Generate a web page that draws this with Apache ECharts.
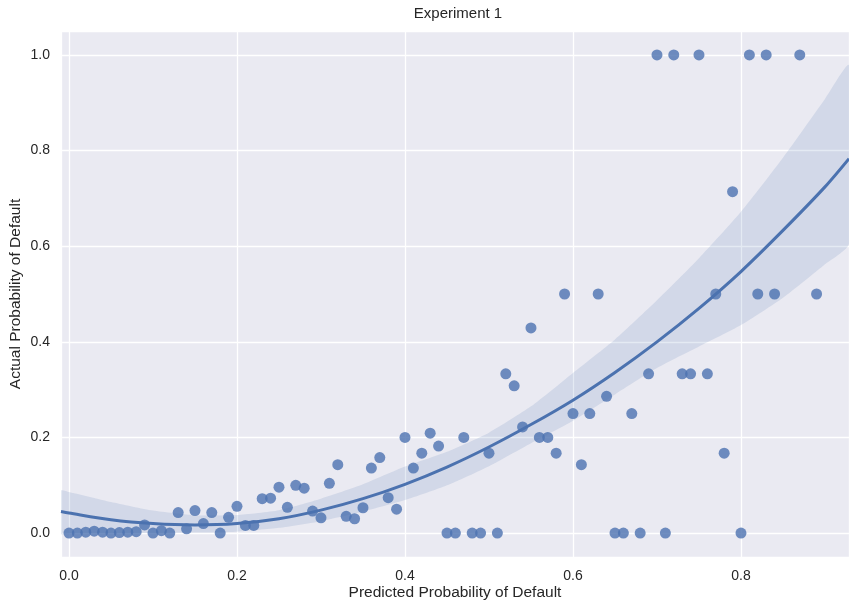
<!DOCTYPE html>
<html>
<head>
<meta charset="utf-8">
<title>Experiment 1</title>
<script src="https://cdn.jsdelivr.net/npm/echarts@6/dist/echarts.min.js"></script>
<style>
  html, body { margin: 0; padding: 0; background: #ffffff; }
  #chart { width: 849px; height: 604px; }
</style>
</head>
<body>
<div id="chart"></div>
<script>
// Binned predictions (x) against observed default rate (y)
const predicted = [
  0.00, 0.01, 0.02, 0.03, 0.04, 0.05, 0.06, 0.07, 0.08, 0.09,
  0.10, 0.11, 0.12, 0.13, 0.14, 0.15, 0.16, 0.17, 0.18, 0.19,
  0.20, 0.21, 0.22, 0.23, 0.24, 0.25, 0.26, 0.27, 0.28, 0.29,
  0.30, 0.31, 0.32, 0.33, 0.34, 0.35, 0.36, 0.37, 0.38, 0.39,
  0.40, 0.41, 0.42, 0.43, 0.44, 0.45, 0.46, 0.47, 0.48, 0.49,
  0.50, 0.51, 0.52, 0.53, 0.54, 0.55, 0.56, 0.57, 0.58, 0.59,
  0.60, 0.61, 0.62, 0.63, 0.64, 0.65, 0.66, 0.67, 0.68, 0.69,
  0.70, 0.71, 0.72, 0.73, 0.74, 0.75, 0.76, 0.77, 0.78, 0.79,
  0.80, 0.81, 0.82, 0.83, 0.84, 0.87, 0.89
];
const actual = [
  0.000, 0.000, 0.002, 0.004, 0.002, 0.000, 0.001, 0.002, 0.003, 0.017,
  0.000, 0.005, 0.000, 0.043, 0.009, 0.047, 0.020, 0.043, 0.000, 0.033,
  0.056, 0.016, 0.016, 0.072, 0.073, 0.096, 0.054, 0.100, 0.094, 0.046,
  0.032, 0.104, 0.143, 0.035, 0.030, 0.053, 0.136, 0.158, 0.074, 0.050,
  0.200, 0.136, 0.167, 0.209, 0.182, 0.000, 0.000, 0.200, 0.000, 0.000,
  0.167, 0.000, 0.333, 0.308, 0.222, 0.429, 0.200, 0.200, 0.167, 0.500,
  0.250, 0.143, 0.250, 0.500, 0.286, 0.000, 0.000, 0.250, 0.000, 0.333,
  1.000, 0.000, 1.000, 0.333, 0.333, 1.000, 0.333, 0.500, 0.167, 0.714,
  0.000, 1.000, 0.500, 1.000, 0.500, 1.000, 0.500
];

// Second-order fit and its confidence band, sampled across the axis
const fitX = [
  -0.0095, 0.00, 0.05, 0.10, 0.15, 0.20, 0.25, 0.30, 0.35, 0.40, 0.45,
  0.50, 0.55, 0.60, 0.65, 0.70, 0.75, 0.80, 0.85, 0.90, 0.9286
];
const fitY = [
  0.045, 0.042, 0.028, 0.020, 0.017, 0.020, 0.030, 0.048, 0.072, 0.102, 0.138,
  0.180, 0.227, 0.278, 0.336, 0.400, 0.470, 0.547, 0.633, 0.724, 0.783
];
const bandUpper = [
  0.089, 0.086, 0.065, 0.047, 0.037, 0.038, 0.048, 0.072, 0.102, 0.139, 0.170,
  0.210, 0.265, 0.335, 0.405, 0.487, 0.575, 0.672, 0.785, 0.908, 0.978
];
const bandLower = [
  -0.002, 0.000, 0.000, 0.000, 0.001, 0.003, 0.011, 0.025, 0.045, 0.069, 0.100,
  0.140, 0.188, 0.235, 0.290, 0.345, 0.390, 0.435, 0.492, 0.562, 0.605
];

// Axis extents and tick labels
const xRange = [-0.0095, 0.9286];
const yRange = [-0.05, 1.05];
const xTicks = ['0.0', '0.2', '0.4', '0.6', '0.8'];
const yTicks = ['0.0', '0.2', '0.4', '0.6', '0.8', '1.0'];

const BLUE = '#4c72b0';
const TEXT = '#262626';
const FONT = '"Liberation Sans", Arial, sans-serif';

const chart = echarts.init(document.getElementById('chart'), null, { renderer: 'canvas' });

const pointData = predicted.map((x, i) => [x, actual[i]]);
const lineData = fitX.map((x, i) => [x, fitY[i]]);

function tickFormatter(list) {
  return function (v) {
    const s = v.toFixed(1);
    return list.indexOf(s) >= 0 && Math.abs(v - parseFloat(s)) < 1e-6 ? s : '';
  };
}

const option = {
  animation: false,
  backgroundColor: '#ffffff',
  title: {
    text: 'Experiment 1',
    left: 453,
    textAlign: 'center',
    top: 1,
    textStyle: { color: TEXT, fontSize: 15, fontWeight: 'normal', fontFamily: FONT }
  },
  grid: {
    left: 61, right: 0, top: 31, bottom: 47,
    containLabel: false,
    outerBoundsMode: 'none',
    show: true, backgroundColor: '#eaeaf2', borderWidth: 0
  },
  xAxis: {
    type: 'value',
    min: xRange[0], max: xRange[1],
    splitNumber: 5,
    name: 'Predicted Probability of Default',
    nameLocation: 'middle',
    nameGap: 28,
    nameMoveOverlap: false,
    nameTextStyle: { color: TEXT, fontSize: 15.5, fontFamily: FONT },
    axisLine: { show: false },
    axisTick: { show: false },
    axisLabel: {
      color: TEXT, fontSize: 14, fontFamily: FONT, margin: 12,
      showMinLabel: false, showMaxLabel: false,
      formatter: tickFormatter(xTicks)
    },
    splitLine: { show: true, lineStyle: { color: '#ffffff', width: 1.3 } }
  },
  yAxis: {
    type: 'value',
    min: yRange[0], max: yRange[1],
    splitNumber: 5,
    name: 'Actual Probability of Default',
    nameLocation: 'middle',
    nameGap: 37,
    nameMoveOverlap: false,
    nameRotate: 90,
    nameTextStyle: { color: TEXT, fontSize: 15.5, fontFamily: FONT },
    axisLine: { show: false },
    axisTick: { show: false },
    axisLabel: {
      color: TEXT, fontSize: 14, fontFamily: FONT, margin: 11,
      showMinLabel: false, showMaxLabel: false,
      formatter: tickFormatter(yTicks)
    },
    splitLine: { show: true, lineStyle: { color: '#ffffff', width: 1.3 } }
  },
  series: [
    {
      type: 'scatter',
      data: pointData,
      symbol: 'circle',
      symbolSize: 11,
      itemStyle: { color: BLUE, opacity: 0.8 },
      z: 2,
      silent: true
    },
    {
      type: 'line',
      data: lineData,
      smooth: 0.3,
      showSymbol: false,
      lineStyle: { color: BLUE, width: 3 },
      z: 3,
      silent: true
    },
    {
      type: 'custom',
      z: 4,
      silent: true,
      clip: true,
      data: [[fitX[0], fitY[0]]],
      renderItem: function (params, api) {
        const upper = fitX.map((x, i) => api.coord([x, bandUpper[i]]));
        const lower = fitX.map((x, i) => api.coord([x, bandLower[i]])).reverse();
        return {
          type: 'polygon',
          shape: { points: upper.concat(lower), smooth: 0.2 },
          style: { fill: 'rgba(76,114,176,0.15)' }
        };
      }
    }
  ]
};

chart.setOption(option);
</script>
</body>
</html>
